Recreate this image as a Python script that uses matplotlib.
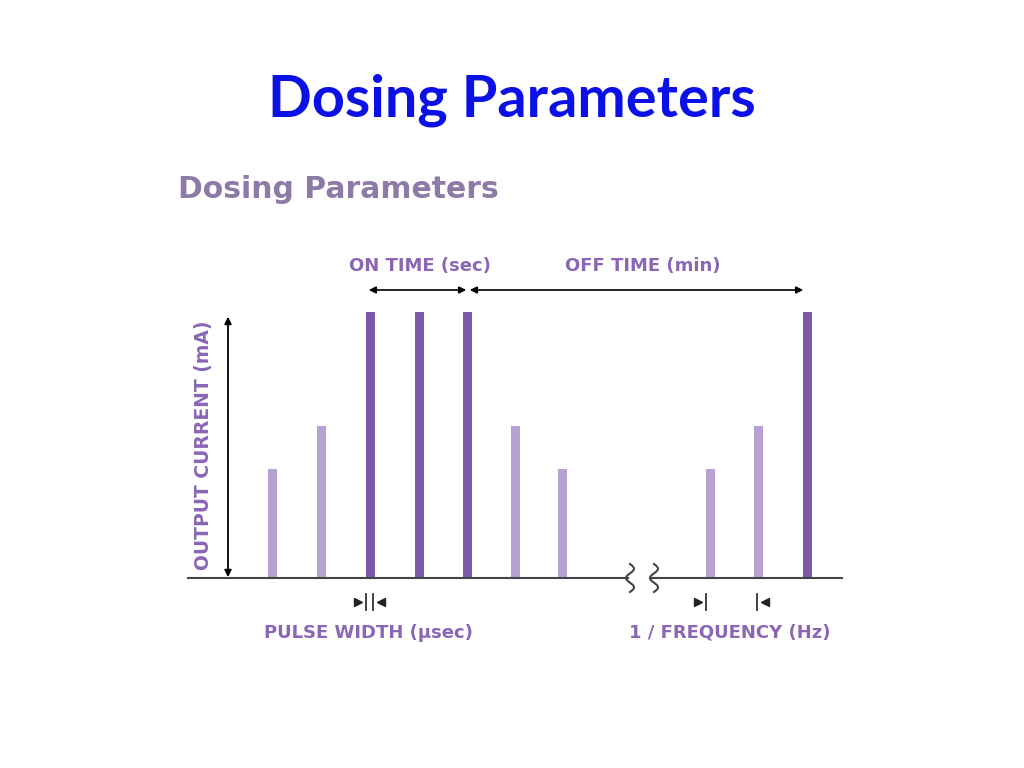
import matplotlib
matplotlib.use("Agg")
import matplotlib.pyplot as plt
import numpy as np

# data
bar_x = [272, 321, 370, 419, 467, 515, 562, 710, 758, 807]
bar_level = [0.41, 0.57, 1.0, 1.0, 1.0, 0.57, 0.41, 0.41, 0.57, 1.0]
bar_strong = [False, False, True, True, True, False, False, False, False, True]

LIGHT = "#b7a1d3"
DARK = "#7e58a8"
TXT = "#8a66b5"
BASE = 578
FULL = 266
LF = "DejaVu Sans"

fig = plt.figure(figsize=(10.24, 7.68), dpi=100)
ax = fig.add_axes([0, 0, 1, 1])
ax.set_xlim(0, 1024)
ax.set_ylim(768, 0)
ax.axis("off")

fig.text(0.5, 1 - 100/768, "Dosing Parameters", ha="center", va="center",
         fontsize=41.5, fontweight="bold", color="#0a10e6", family="Lato")
ax.text(178, 190, "Dosing Parameters", ha="left", va="center", fontsize=21.5,
        fontweight="bold", color="#8e7aa6", family=LF)

for x, lv, s in zip(bar_x, bar_level, bar_strong):
    ax.bar(x, -lv * FULL, bottom=BASE, width=9, color=DARK if s else LIGHT)

# baseline with break
ax.plot([188, 628], [BASE, BASE], color="#444", lw=1.5)
ax.plot([652, 842], [BASE, BASE], color="#444", lw=1.5)
t = np.linspace(0, 1, 50)
for cx in (630, 654):
    yy = BASE - 14 + 28 * t
    xx = cx + 4 * np.sin(2 * np.pi * t * 1.5)
    ax.plot(xx, yy, color="#444", lw=1.5)

# y arrow
ax.annotate("", xy=(228, 314), xytext=(228, 580),
            arrowprops=dict(arrowstyle="<|-|>", color="black", lw=1.3))
ax.text(204, 445, "OUTPUT CURRENT (mA)", rotation=90, ha="center", va="center",
        fontsize=13.5, fontweight="bold", color=TXT, family=LF)

# on / off arrows
ax.annotate("", xy=(366, 290), xytext=(469, 290),
            arrowprops=dict(arrowstyle="<|-|>", color="black", lw=1.2))
ax.annotate("", xy=(467, 290), xytext=(806, 290),
            arrowprops=dict(arrowstyle="<|-|>", color="black", lw=1.2))
ax.text(420, 266, "ON TIME (sec)", ha="center", va="center", fontsize=13,
        fontweight="bold", color=TXT, family=LF)
ax.text(643, 266, "OFF TIME (min)", ha="center", va="center", fontsize=13,
        fontweight="bold", color=TXT, family=LF)

# pulse width markers
def marker(x, direction):
    ax.plot([x, x], [594, 610], color="#333", lw=1.3)
    ax.plot([x - direction * 8], [602], marker=">" if direction > 0 else "<",
            color="#222", markersize=6)
marker(366, 1)
marker(373, -1)
marker(706, 1)
marker(757, -1)

ax.text(368, 633, "PULSE WIDTH (μsec)", ha="center", va="center", fontsize=13,
        fontweight="bold", color=TXT, family=LF)
ax.text(730, 633, "1 / FREQUENCY (Hz)", ha="center", va="center", fontsize=13,
        fontweight="bold", color=TXT, family=LF)

fig.savefig("out.png", dpi=100)
